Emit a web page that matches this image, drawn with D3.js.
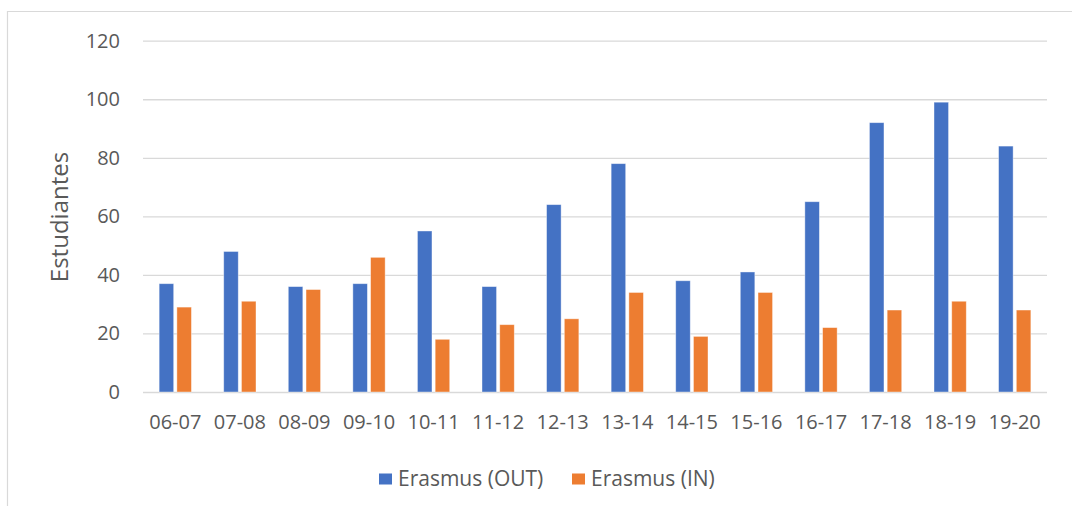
<!DOCTYPE html>
<html>
<head>
<meta charset="utf-8">
<script src="https://cdn.jsdelivr.net/npm/d3@7"></script>
<style>
  body { margin: 0; background: #fff; }
  svg { display: block; }
</style>
</head>
<body>
<svg width="1072" height="506"></svg>
<script>
const width = 1072, height = 506;

// data
const years = ["06-07", "07-08", "08-09", "09-10", "10-11", "11-12", "12-13",
               "13-14", "14-15", "15-16", "16-17", "17-18", "18-19", "19-20"];
const seriesNames = ["Erasmus (OUT)", "Erasmus (IN)"];
const erasmusOut = [37, 48, 36, 37, 55, 36, 64, 78, 38, 41, 65, 92, 99, 84];
const erasmusIn = [29, 31, 35, 46, 18, 23, 25, 34, 19, 34, 22, 28, 31, 28];
const yTicks = [0, 20, 40, 60, 80, 100, 120];
const colors = ["#4472C4", "#ED7D31"];

const textColor = "#595959";
const font = "'Open Sans', sans-serif";

let margin = {top: 40.7, right: 25, bottom: 114, left: 143};
let plotWidth = width - margin.left - margin.right,
    plotHeight = height - margin.top - margin.bottom;

const svg = d3.select('svg')

// chart frame (only top and left edges fall inside the picture)
svg.append("path")
    .attr("d", "M7.5,506 V11.5 H1072")
    .attr("fill", "none")
    .attr("stroke", "#d9d9d9")
    .attr("stroke-width", 1.2)

const x0 = d3.scaleBand()
    .domain(years)
    .range([0, plotWidth])
    .paddingInner(0.5)
    .paddingOuter(0.25)

const x1 = d3.scaleBand()
    .domain(seriesNames)
    .range([0, x0.bandwidth()])
    .paddingInner(0.18)

const y = d3.scaleLinear()
    .domain([0, 120])
    .range([plotHeight, 0])

const plot = svg.append("g")
    .attr("transform", `translate(${margin.left}, ${margin.top})`)

// gridlines + y labels
const yAxis = plot.append("g")
    .call(d3.axisLeft(y).tickValues(yTicks).tickSize(-plotWidth).tickPadding(23))

yAxis.select(".domain").remove()
yAxis.selectAll(".tick line")
    .attr("stroke", "#d9d9d9")
    .attr("stroke-width", 1.3)
yAxis.selectAll(".tick text")
    .attr("fill", textColor)
    .attr("font-size", "20px")
    .attr("font-family", font)

// x labels
const xAxis = plot.append("g")
    .attr("transform", `translate(0, ${plotHeight})`)
    .call(d3.axisBottom(x0).tickSize(0).tickPadding(23))

xAxis.select(".domain").remove()
xAxis.selectAll(".tick text")
    .attr("fill", textColor)
    .attr("font-size", "20px")
    .attr("font-family", font)

// bars
const rows = years.map((yr, i) => ({year: yr, values: [erasmusOut[i], erasmusIn[i]]}))

const groups = plot.selectAll(".year")
    .data(rows)
    .join("g")
    .attr("class", "year")
    .attr("transform", d => `translate(${x0(d.year)}, 0)`)

groups.selectAll("rect")
    .data(d => d.values.map((v, j) => ({name: seriesNames[j], value: v, color: colors[j]})))
    .join("rect")
    .attr("x", d => x1(d.name))
    .attr("y", d => y(d.value))
    .attr("width", x1.bandwidth())
    .attr("height", d => plotHeight - y(d.value))
    .attr("fill", d => d.color)
    .attr("stroke", "#ffffff")
    .attr("stroke-opacity", 0.5)
    .attr("stroke-width", 0.8)

// y title
svg.append("text")
    .attr("transform", `translate(68, 217) rotate(-90)`)
    .attr("text-anchor", "middle")
    .attr("font-size", "24px")
    .attr("font-family", font)
    .attr("fill", textColor)
    .text("Estudiantes")

// legend
const legend = svg.append("g")
    .attr("transform", "translate(379, 479)")

const legendX = [0, 193]

const items = legend.selectAll(".item")
    .data(seriesNames)
    .join("g")
    .attr("class", "item")
    .attr("transform", (d, i) => `translate(${legendX[i]}, 0)`)

items.append("rect")
    .attr("x", 0)
    .attr("y", -5.5)
    .attr("width", 13)
    .attr("height", 11)
    .attr("fill", (d, i) => colors[i])

items.append("text")
    .attr("x", 19)
    .attr("dy", "0.35em")
    .attr("font-size", "21px")
    .attr("font-family", font)
    .attr("fill", textColor)
    .text(d => d)
</script>
</body>
</html>
